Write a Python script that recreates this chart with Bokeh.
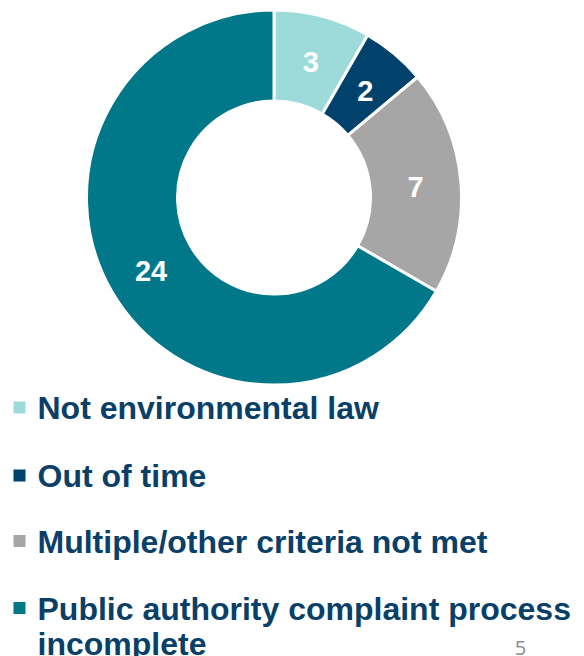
import math
from bokeh.plotting import figure
from bokeh.models import Range1d, ColumnDataSource
from bokeh.core.properties import value
from bokeh.embed import file_html
from bokeh.resources import INLINE

categories = ["Not environmental law", "Out of time", "Multiple/other criteria not met",
              "Public authority complaint process\nincomplete"]
counts = [3, 2, 7, 24]
colors = ["#9ddbda", "#00426b", "#a6a6a6", "#007889"]
page_number = "5"

W, H = 584, 656
p = figure(width=W, height=H, output_backend="svg", toolbar_location=None,
           x_range=Range1d(0, W), y_range=Range1d(0, H), min_border=0)
p.axis.visible = False
p.grid.visible = False
p.outline_line_color = None
p.background_fill_color = "white"
p.border_fill_color = "white"

cx, cy = 273.5, H - 197
r_in, r_out = 96.5, 187.5
total = sum(counts)
starts, ends, lx, ly = [], [], [], []
cum = 0
for c in counts:
    a0 = math.pi / 2 - 2 * math.pi * cum / total
    a1 = math.pi / 2 - 2 * math.pi * (cum + c) / total
    starts.append(a0)
    ends.append(a1)
    mid = (a0 + a1) / 2
    rl = (r_in + r_out) / 2
    lx.append(cx + rl * math.cos(mid))
    ly.append(cy + rl * math.sin(mid) - 2)
    cum += c

src = ColumnDataSource(dict(x=[cx] * len(counts), y=[cy] * len(counts), s=starts, e=ends,
                            color=colors, lx=lx, ly=ly, t=[str(c) for c in counts]))
p.annular_wedge(x="x", y="y", inner_radius=r_in, outer_radius=r_out, start_angle="s",
                end_angle="e", direction="clock", fill_color="color",
                line_color="white", line_width=3, source=src)
p.text(x="lx", y="ly", text="t", source=src, text_color="white",
       text_font=value("Liberation Sans"), text_font_style="bold", text_font_size="29px",
       text_align="center", text_baseline="middle")

# legend
sq_y = [407, 475, 540.5, 607.5]
line_gap = 35
shift = 11
sqx, sqy, tx, ty, tt = [], [], [], [], []
for i, lab in enumerate(categories):
    sqx.append(19)
    sqy.append(H - sq_y[i])
    for j, line in enumerate(lab.split("\n")):
        tx.append(37)
        ty.append(H - (sq_y[i] + 11.5 + j * line_gap - shift))
        tt.append(line)
p.scatter(x=sqx, y=sqy, marker="square", size=12, fill_color=colors, line_color=None)
p.text(x=tx, y=ty, text=tt, text_color="#0a3f68", text_font=value("Liberation Sans"),
       text_font_style="bold", text_font_size="32px", text_baseline="alphabetic",
       text_align="left")

p.text(x=[520], y=[H - 653 + 6], text=[page_number], text_color="#8a8a8a",
       text_font=value("Open Sans"), text_font_size="20px", text_align="center",
       text_baseline="alphabetic")

open("out.html", "w").write(file_html(p, INLINE))
